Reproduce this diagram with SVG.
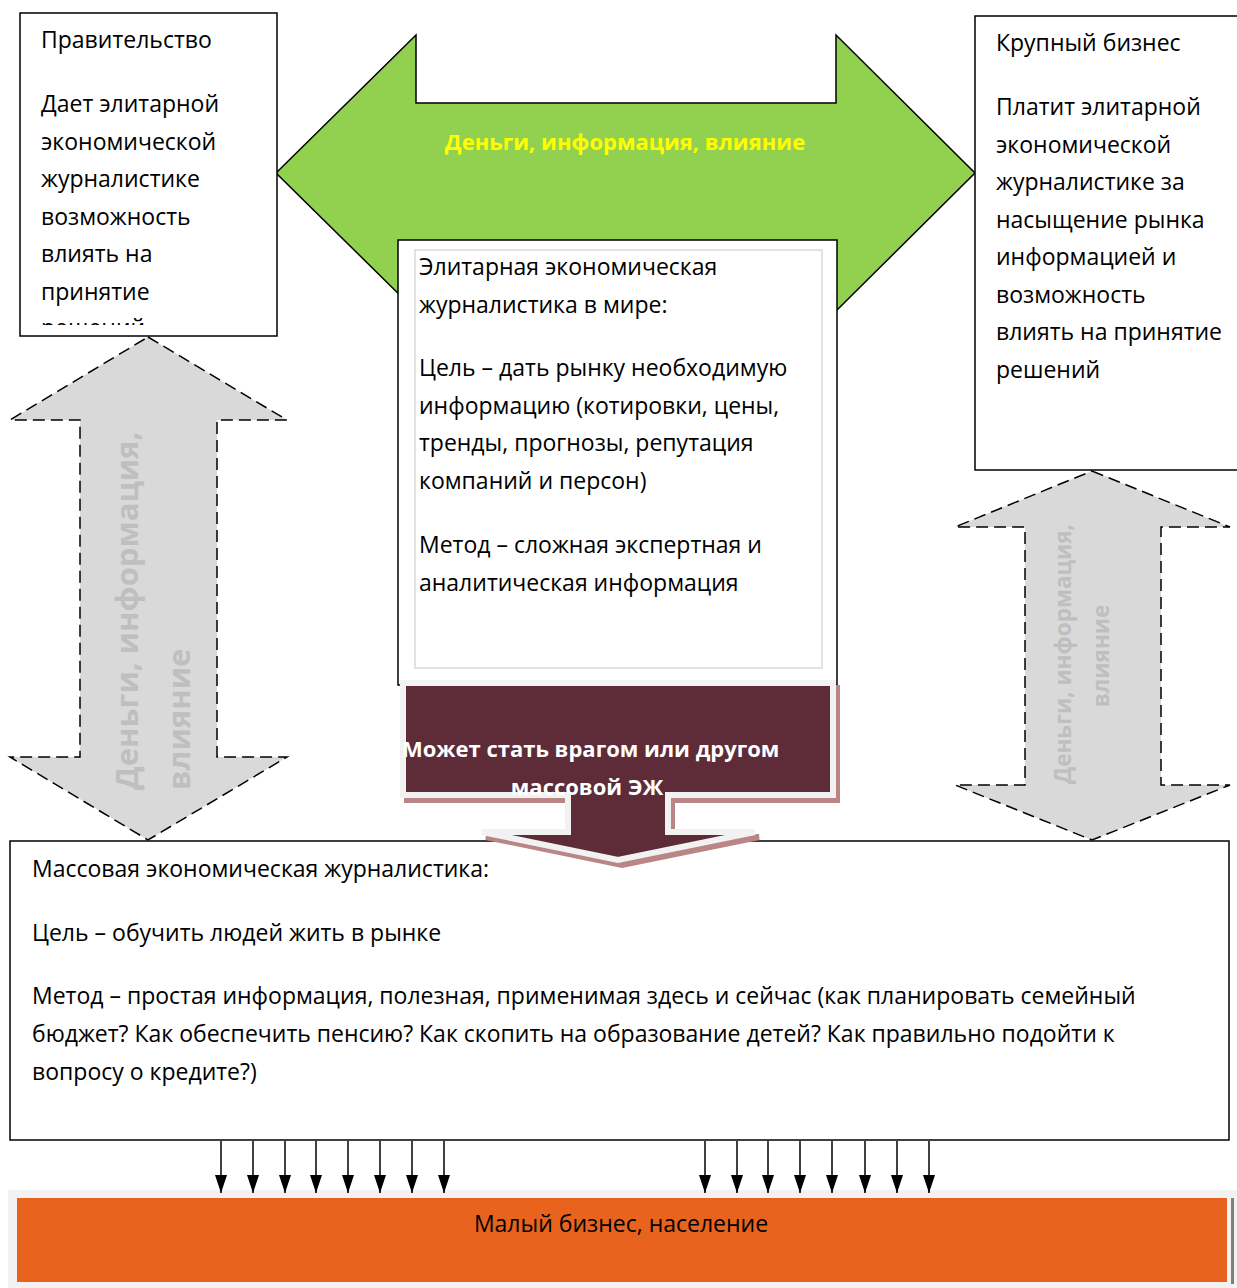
<svg xmlns="http://www.w3.org/2000/svg" width="1237" height="1288" viewBox="0 0 1237 1288">
<style>
.t{font-family:"Open Sans","Liberation Sans",sans-serif;font-size:23px;fill:#000}
.box{fill:#fff;stroke:#000;stroke-width:1.5}
.dash{fill:#d9d9d9;stroke:#000;stroke-width:1.5;stroke-dasharray:12 6}
.gl{font-family:"Open Sans","Liberation Sans",sans-serif;font-weight:bold;fill:#bfbfbf}
.sa{stroke:#000;stroke-width:1.5}
</style>
<defs>
<marker id="ah" viewBox="0 0 18 12" refX="18" refY="6" markerWidth="18" markerHeight="12" markerUnits="userSpaceOnUse" orient="auto">
<path d="M0,0 L18,6 L0,12 Z" fill="#000"/>
</marker>
<clipPath id="cl1"><rect x="21" y="14" width="255" height="311"/></clipPath>
</defs>
<rect width="1237" height="1288" fill="#fff"/>

<g id="green-arrow">
<polygon points="276,173 416,35 416,103 836,103 836,35 975,173 836,311 836,243 416,243 416,311" fill="#92d050" stroke="#000" stroke-width="1.5"/>
<text x="625" y="150" text-anchor="middle" font-family="Open Sans, Liberation Sans, sans-serif" font-weight="bold" font-size="22" fill="#ffff00">Деньги, информация, влияние</text>
</g>

<g id="government">
<rect class="box" x="20" y="13" width="257" height="323"/>
<g clip-path="url(#cl1)">
<text class="t" x="41" y="48">Правительство</text>
<text class="t" x="41" y="112">Дает элитарной</text>
<text class="t" x="41" y="150">экономической</text>
<text class="t" x="41" y="187">журналистике</text>
<text class="t" x="41" y="225">возможность</text>
<text class="t" x="41" y="262">влиять на</text>
<text class="t" x="41" y="300">принятие</text>
<text class="t" x="41" y="336">решений</text>
</g>
</g>

<g id="big-business">
<rect class="box" x="975" y="16" width="270" height="454"/>
<text class="t" x="996" y="51">Крупный бизнес</text>
<text class="t" x="996" y="115">Платит элитарной</text>
<text class="t" x="996" y="153">экономической</text>
<text class="t" x="996" y="190">журналистике за</text>
<text class="t" x="996" y="228">насыщение рынка</text>
<text class="t" x="996" y="265">информацией и</text>
<text class="t" x="996" y="303">возможность</text>
<text class="t" x="996" y="340">влиять на принятие</text>
<text class="t" x="996" y="378">решений</text>
</g>

<g id="elite">
<rect class="box" x="398" y="240" width="439" height="445"/>
<rect x="415" y="250" width="407" height="418" fill="none" stroke="#d9d9d9" stroke-width="1.5"/>
<text class="t" x="419" y="275">Элитарная экономическая</text>
<text class="t" x="419" y="313">журналистика в мире:</text>
<text class="t" x="419" y="376">Цель – дать рынку необходимую</text>
<text class="t" x="419" y="414">информацию (котировки, цены,</text>
<text class="t" x="419" y="451">тренды, прогнозы, репутация</text>
<text class="t" x="419" y="489">компаний и персон)</text>
<text class="t" x="419" y="553">Метод – сложная экспертная и</text>
<text class="t" x="419" y="591">аналитическая информация</text>
</g>

<g id="left-gray-arrow">
<polygon class="dash" points="148,337 287,420 217,420 217,757 287,757 148,840 10,757 80,757 80,420 10,420"/>
<text class="gl" font-size="31" transform="translate(138,790) rotate(-90)">Деньги, информация,</text>
<text class="gl" font-size="31" transform="translate(190,790) rotate(-90)">влияние</text>
</g>

<g id="right-gray-arrow">
<polygon class="dash" points="1092,471 1230,527 1161,527 1161,785 1230,785 1092,840 955,785 1025,785 1025,527 955,527"/>
<text class="gl" font-size="22.5" text-anchor="middle" transform="translate(1071,654) rotate(-90)">Деньги, информация,</text>
<text class="gl" font-size="22.5" text-anchor="middle" transform="translate(1109,656) rotate(-90)">влияние</text>
</g>

<g id="mass">
<rect class="box" x="10" y="841" width="1219" height="299"/>
<text class="t" x="32" y="877">Массовая экономическая журналистика:</text>
<text class="t" x="32" y="941">Цель – обучить людей жить в рынке</text>
<text class="t" x="32" y="1004">Метод – простая информация, полезная, применимая здесь и сейчас (как планировать семейный</text>
<text class="t" x="32" y="1042">бюджет? Как обеспечить пенсию? Как скопить на образование детей? Как правильно подойти к</text>
<text class="t" x="32" y="1080">вопросу о кредите?)</text>
</g>

<g id="callout">
<path d="M403,683 H833 V795 H668 V832 H755 L618,860 L482,832 H568 V795 H403 Z" fill="#b98585" stroke="#b98585" stroke-width="6" transform="translate(4,5)"/>
<path d="M403,683 H833 V795 H668 V832 H755 L618,860 L482,832 H568 V795 H403 Z" fill="#5e2b38" stroke="#f2f2f2" stroke-width="6"/>
<text x="402" y="757" font-family="Open Sans, Liberation Sans, sans-serif" font-weight="bold" font-size="22" fill="#fff">Может стать врагом или другом</text>
<text x="587" y="795" text-anchor="middle" font-family="Open Sans, Liberation Sans, sans-serif" font-weight="bold" font-size="22" fill="#fff">массовой ЭЖ</text>
</g>

<g id="small-business">
<rect x="8" y="1190" width="1229" height="98" fill="#f2f2f2"/>
<rect x="1231" y="1198" width="3" height="86" fill="#7f7f7f"/>
<rect x="17" y="1198" width="1210" height="84" fill="#e8641e"/>
<text class="t" x="621" y="1232" text-anchor="middle">Малый бизнес, население</text>
</g>

<g id="connectors">
<line class="sa" x1="221" y1="1141" x2="221" y2="1193" marker-end="url(#ah)"/>
<line class="sa" x1="253" y1="1141" x2="253" y2="1193" marker-end="url(#ah)"/>
<line class="sa" x1="285" y1="1141" x2="285" y2="1193" marker-end="url(#ah)"/>
<line class="sa" x1="316" y1="1141" x2="316" y2="1193" marker-end="url(#ah)"/>
<line class="sa" x1="348" y1="1141" x2="348" y2="1193" marker-end="url(#ah)"/>
<line class="sa" x1="380" y1="1141" x2="380" y2="1193" marker-end="url(#ah)"/>
<line class="sa" x1="412" y1="1141" x2="412" y2="1193" marker-end="url(#ah)"/>
<line class="sa" x1="444" y1="1141" x2="444" y2="1193" marker-end="url(#ah)"/>
<line class="sa" x1="705" y1="1141" x2="705" y2="1193" marker-end="url(#ah)"/>
<line class="sa" x1="737" y1="1141" x2="737" y2="1193" marker-end="url(#ah)"/>
<line class="sa" x1="768" y1="1141" x2="768" y2="1193" marker-end="url(#ah)"/>
<line class="sa" x1="800" y1="1141" x2="800" y2="1193" marker-end="url(#ah)"/>
<line class="sa" x1="832" y1="1141" x2="832" y2="1193" marker-end="url(#ah)"/>
<line class="sa" x1="865" y1="1141" x2="865" y2="1193" marker-end="url(#ah)"/>
<line class="sa" x1="897" y1="1141" x2="897" y2="1193" marker-end="url(#ah)"/>
<line class="sa" x1="929" y1="1141" x2="929" y2="1193" marker-end="url(#ah)"/>
</g>
</svg>
